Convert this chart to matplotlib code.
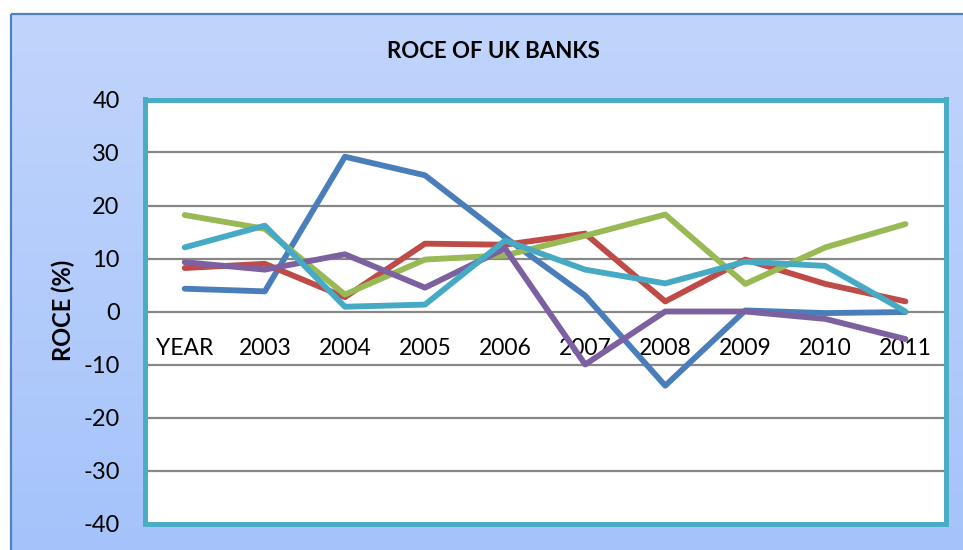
import numpy as np
import matplotlib
matplotlib.use("Agg")
import matplotlib.pyplot as plt
from matplotlib.transforms import offset_copy

plt.rcParams["font.family"] = ["Lato", "DejaVu Sans"]
plt.rcParams["axes.unicode_minus"] = False

# ==================== data ====================
categories = ["YEAR", "2003", "2004", "2005", "2006", "2007", "2008", "2009", "2010", "2011"]

bank_blue = [4.3, 3.8, 29.2, 25.7, 14.0, 3.0, -14.0, 0.2, -0.3, -0.1]
bank_red = [8.2, 9.0, 2.7, 12.8, 12.6, 14.7, 1.9, 9.8, 5.2, 1.9]
bank_green = [18.2, 15.6, 3.2, 9.8, 10.6, 14.3, 18.3, 5.2, 12.1, 16.5]
bank_purple = [9.3, 7.9, 10.8, 4.5, 11.9, -10.0, 0.0, 0.0, -1.4, -5.2]
bank_cyan = [12.1, 16.2, 0.9, 1.3, 13.4, 7.9, 5.3, 9.4, 8.6, 0.0]

y_ticks = [-40, -30, -20, -10, 0, 10, 20, 30, 40]

series = [
    (bank_blue, "#4A7EBB"),
    (bank_red, "#BE4B48"),
    (bank_green, "#98B954"),
    (bank_purple, "#7D60A0"),
    (bank_cyan, "#46AAC5"),
]

W, H = 963, 550
fig = plt.figure(figsize=(W / 100, H / 100), dpi=100)
fig.patch.set_facecolor("white")

# chart area background: soft vertical blue gradient with a thin frame
bg = fig.add_axes([0, 0, 1, 1], zorder=-1)
bg.axis("off")
grad = np.linspace(0, 1, 256).reshape(-1, 1)
top = np.array([0xC1, 0xD5, 0xFC]) / 255
bot = np.array([0xA5, 0xC3, 0xFA]) / 255
img = top + (bot - top) * grad[:, :, None]
bg.imshow(img, extent=[11, W, H, 14], aspect="auto", interpolation="bilinear")
bg.plot([11, 11], [H, 14], color="#4F81BD", lw=1.6, solid_capstyle="butt")
bg.plot([11, W], [14, 14], color="#4F81BD", lw=1.6, solid_capstyle="butt")
bg.set_xlim(0, W)
bg.set_ylim(H, 0)

# plot area
left, right, top_px, bottom_px = 144.7, 945.5, 99.5, 523.5
ax = fig.add_axes([left / W, (H - bottom_px) / H, (right - left) / W, (bottom_px - top_px) / H])
ax.set_facecolor("white")

x = np.arange(len(categories))
for values, color in series:
    ax.plot(x, values, color=color, lw=4.2, solid_joinstyle="round", solid_capstyle="round")

ax.set_xlim(-0.5, len(categories) - 0.5)
ax.set_ylim(-40, 40)
ax.set_yticks(y_ticks)
ax.tick_params(axis="y", length=0, pad=18, labelsize=17)
ax.set_xticks([])
ax.yaxis.grid(True, color="#878787", lw=1.6)
ax.set_axisbelow(True)

for sp in ax.spines.values():
    sp.set_color("#4BACC6")
    sp.set_linewidth(3.6)

# category labels hang just under the zero line
below_zero = offset_copy(ax.transData, fig=fig, x=0, y=-19, units="points")
for i, lab in enumerate(categories):
    ax.text(i, 0, lab, transform=below_zero, ha="center", va="top",
            fontsize=16.5, zorder=1)

fig.text(493 / W, 1 - 51 / H, "ROCE OF UK BANKS", ha="center", va="center",
         fontsize=16, fontweight="bold")
fig.text(63 / W, 1 - 310 / H, "ROCE (%)", ha="center", va="center", rotation=90,
         fontsize=17, fontweight="bold")

fig.savefig("out.png", dpi=100)
